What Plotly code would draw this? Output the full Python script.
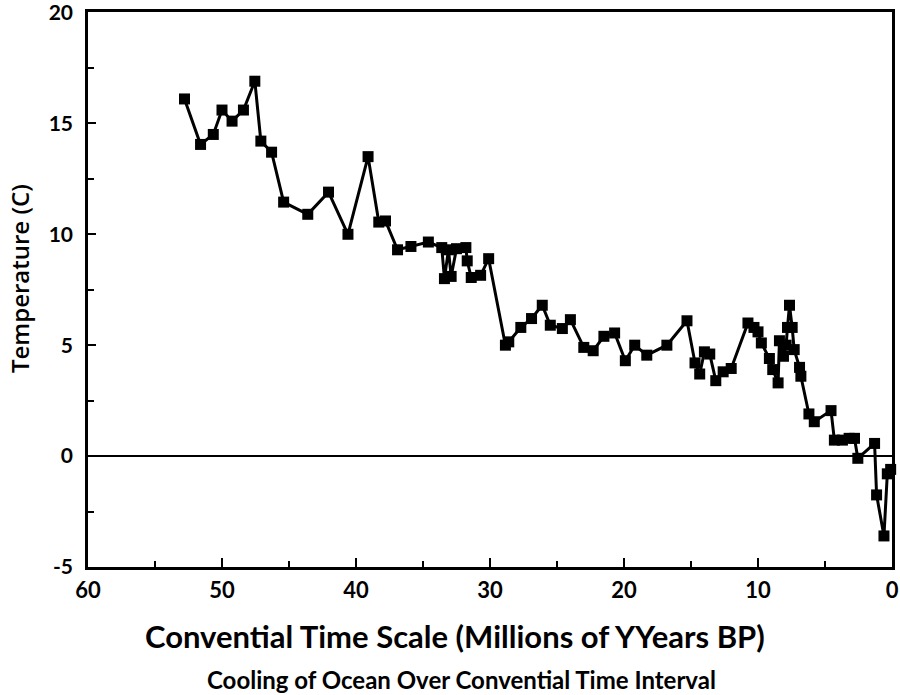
import plotly.graph_objects as go

# Age in millions of years BP (conventional time scale)
age_myr = [52.8, 51.6, 50.65, 50.0, 49.25, 48.4, 47.55, 47.1, 46.3, 45.4,
           43.6, 42.05, 40.6, 39.1, 38.3, 37.8, 36.9, 35.9, 34.6, 33.6,
           33.4, 33.1, 32.9, 32.5, 31.8, 31.7, 31.4, 30.7, 30.1, 28.85,
           28.6, 27.7, 26.9, 26.1, 25.5, 24.6, 24.0, 23.0, 22.3, 21.5,
           20.7, 19.9, 19.2, 18.3, 16.8, 15.3, 14.7, 14.35, 14.0, 13.6,
           13.15, 12.6, 12.0, 10.75, 10.3, 10.0, 9.75, 9.15, 8.9, 8.5,
           8.4, 8.1, 7.9, 7.8, 7.65, 7.45, 7.3, 6.9, 6.8, 6.2,
           5.8, 4.55, 4.3, 3.7, 3.2, 2.8, 2.55, 1.3, 1.15, 0.6,
           0.35, 0.1]

# Ocean temperature (C)
temp_c = [16.1, 14.05, 14.5, 15.6, 15.1, 15.6, 16.9, 14.2, 13.7, 11.45,
          10.9, 11.9, 10.0, 13.5, 10.55, 10.6, 9.3, 9.45, 9.65, 9.4,
          8.0, 9.3, 8.1, 9.35, 9.4, 8.8, 8.05, 8.15, 8.9, 5.0,
          5.15, 5.8, 6.2, 6.8, 5.9, 5.75, 6.15, 4.9, 4.75, 5.4,
          5.55, 4.3, 5.0, 4.55, 5.0, 6.1, 4.2, 3.7, 4.7, 4.6,
          3.4, 3.8, 3.95, 6.0, 5.8, 5.6, 5.1, 4.4, 3.9, 3.3,
          5.2, 4.5, 5.0, 5.8, 6.8, 5.8, 4.8, 4.0, 3.6, 1.9,
          1.55, 2.05, 0.72, 0.72, 0.8, 0.8, -0.1, 0.57, -1.75, -3.6,
          -0.8, -0.6]

x_ticks = [60, 50, 40, 30, 20, 10, 0]
y_ticks = [-5, 0, 5, 10, 15, 20]

fig = go.Figure()
fig.add_trace(go.Scatter(
    x=age_myr, y=temp_c, mode="lines+markers",
    line=dict(color="black", width=3),
    marker=dict(symbol="square", size=11, color="black"),
    showlegend=False, cliponaxis=False,
))

fig.update_layout(
    width=900, height=695,
    margin=dict(l=88, r=8, t=12, b=128),
    paper_bgcolor="white", plot_bgcolor="white",
    xaxis=dict(
        range=[60, 0], tickvals=x_ticks, ticktext=[str(v) for v in x_ticks],
        showgrid=False, zeroline=False, automargin=False,
        showline=True, linecolor="black", linewidth=2.5, mirror=True,
        ticks="inside", ticklen=9, tickwidth=2, tickcolor="black",
        minor=dict(dtick=5, ticks="inside", ticklen=6, tickwidth=2, tickcolor="black"),
        tickfont=dict(family="Lato, sans-serif", size=22, color="black", weight="bold"),
        ticklabelstandoff=2, ticklabeloverflow="allow",
    ),
    yaxis=dict(
        range=[-5, 20.02], tickvals=y_ticks, ticktext=[str(v) for v in y_ticks],
        showgrid=False, automargin=False,
        zeroline=True, zerolinecolor="black", zerolinewidth=2,
        showline=True, linecolor="black", linewidth=2.5, mirror=True,
        ticks="inside", ticklen=8, tickwidth=2, tickcolor="black",
        minor=dict(dtick=2.5, ticks="inside", ticklen=6, tickwidth=2, tickcolor="black"),
        tickfont=dict(family="Lato, sans-serif", size=21, color="black", weight="bold"),
        ticklabelstandoff=8, ticklabeloverflow="allow",
    ),
    annotations=[
        dict(text="Temperature (C)", textangle=-90,
             xref="paper", yref="paper", x=-0.085, y=0.52,
             xanchor="center", yanchor="middle", showarrow=False,
             font=dict(family="Open Sans, sans-serif", size=24, color="black", weight=600)),
        dict(text="Convential Time Scale (Millions of YYears BP)",
             xref="paper", yref="paper", x=0.456, y=-0.124, yanchor="middle",
             showarrow=False,
             font=dict(family="Lato, sans-serif", size=31, color="black", weight="bold")),
        dict(text="Cooling of Ocean Over Convential Time Interval",
             xref="paper", yref="paper", x=0.464, y=-0.202, yanchor="middle",
             showarrow=False,
             font=dict(family="Lato, sans-serif", size=24, color="black", weight="bold")),
    ],
)

fig.write_html("out.html", config={"displayModeBar": False},
               post_script="document.body.style.margin='0';")
